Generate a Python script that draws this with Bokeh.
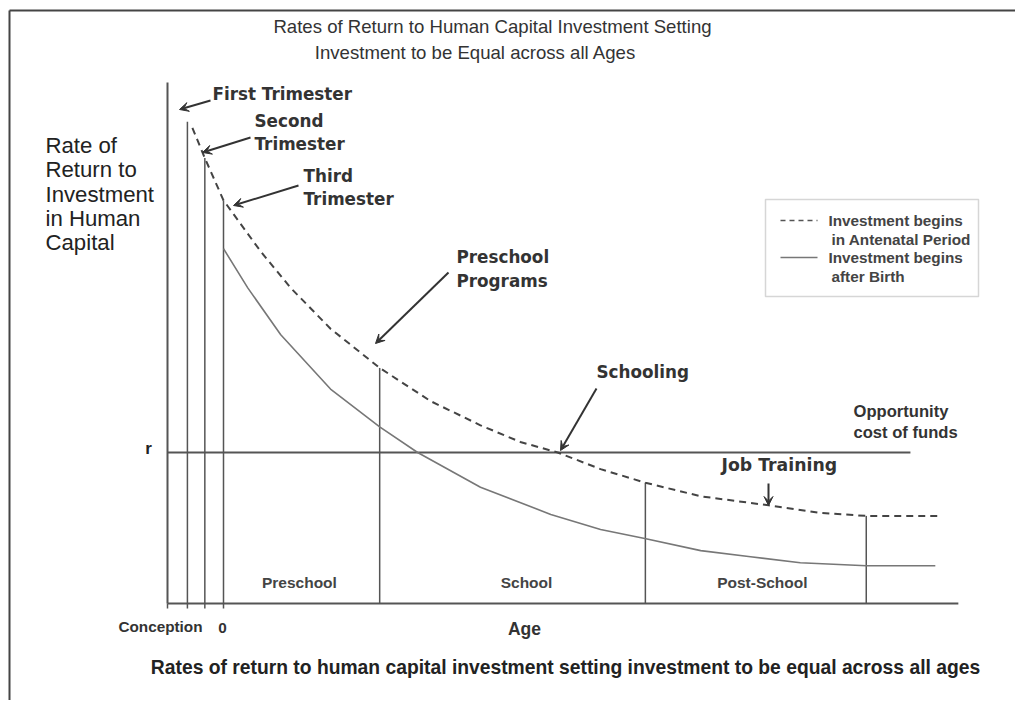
from bokeh.plotting import figure
from bokeh.models import Range1d, Label, Arrow, VeeHead, BoxAnnotation
from bokeh.embed import file_html
from bokeh.resources import INLINE

# ---------------- data (months since conception, rate of return; r = 1) -------------
dashed_months = [4.0, 6.0, 9.0, 15.0, 19.8, 26.2, 34.1, 42.3, 50.3, 56.7, 62.7, 69.6,
                 76.8, 85.7, 96.6, 105.0, 112.3, 123.8]
dashed_rate = [3.15, 2.95, 2.67, 2.33, 2.09, 1.82, 1.56, 1.34, 1.18, 1.07, 1.00, 0.89,
               0.80, 0.71, 0.65, 0.60, 0.58, 0.58]

solid_months = [9.0, 12.9, 18.2, 26.2, 34.1, 40.2, 50.3, 61.6, 69.6, 76.7, 85.7, 93.7,
                101.7, 112.3, 123.4]
solid_rate = [2.35, 2.09, 1.78, 1.42, 1.17, 1.00, 0.77, 0.59, 0.49, 0.43, 0.35, 0.31,
              0.27, 0.25, 0.25]

stage_months = [3.2, 6.0, 9.0, 34.1, 76.8, 112.3]
stage_tops = [3.19, 2.95, 2.67, 1.56, 0.80, 0.58]

r_rate = 1.0
r_end = 119.4
x_axis_end = 127.1
y_axis_top = 3.45
tick_months = [0.0, 3.2, 6.0, 9.0]

segment_names = ["Preschool", "School", "Post-School"]
segment_centers = [21.2, 57.7, 95.6]

# ---------------- layout helpers (page pixels -> data units) ----------------
PX0, PXU = 167.0, 56.0 / 9.0
PY0, PYU = 603.0, 151.0


def X(px):
    return (px - PX0) / PXU


def Y(py):
    return (PY0 - py) / PYU


W, H = 1015, 700
p = figure(width=W, height=H, x_range=Range1d(X(0), X(W)), y_range=Range1d(Y(H), Y(0)),
           output_backend="svg", toolbar_location=None, min_border=0,
           x_axis_type=None, y_axis_type=None)
p.grid.visible = False
p.outline_line_color = None
p.background_fill_color = "white"

LC = "#555555"

# page border (left and top)
p.segment(x0=[X(9), X(9)], y0=[Y(10), Y(10)], x1=[X(9), X(W)], y1=[Y(H), Y(10)],
          line_color="#444444", line_width=2)

# axes
p.segment(x0=[0, 0], y0=[0, 0], x1=[x_axis_end, 0], y1=[0, y_axis_top], line_color=LC, line_width=2)
p.segment(x0=tick_months, y0=[0] * len(tick_months), x1=tick_months,
          y1=[Y(608)] * len(tick_months), line_color=LC, line_width=1.5)

# r line
p.segment(x0=[0], y0=[r_rate], x1=[r_end], y1=[r_rate], line_color=LC, line_width=2)

# stage boundaries
p.segment(x0=stage_months, y0=[0] * len(stage_months), x1=stage_months, y1=stage_tops,
          line_color=LC, line_width=1.5)

# curves
p.line(dashed_months, dashed_rate, line_color="#444444", line_width=2, line_dash="7 5")
p.line(solid_months, solid_rate, line_color="#777777", line_width=1.6)

BOLD_L = "DejaVu Sans"
ARIAL = "Liberation Sans"


def lab(px, py, text, font=BOLD_L, size="16.8px", style="bold", align="left", color="#333333"):
    p.add_layout(Label(x=X(px), y=Y(py), text=text, text_font=font, text_font_size=size,
                       text_font_style=style, text_align=align, text_baseline="middle",
                       text_color=color))


def arrow(x0, y0, x1, y1):
    p.add_layout(Arrow(x_start=X(x0), y_start=Y(y0), x_end=X(x1), y_end=Y(y1),
                       line_color="#333333", line_width=2,
                       end=VeeHead(size=9, fill_color="#333333", line_color="#333333")))


# titles
lab(492, 26, "Rates of Return to Human Capital Investment Setting", ARIAL, "18.6px", "normal", "center")
lab(475, 52, "Investment to be Equal across all Ages", ARIAL, "18.6px", "normal", "center")

# y label
for i, t in enumerate(["Rate of", "Return to", "Investment", "in Human", "Capital"]):
    lab(45, 145 + i * 24.3, t, ARIAL, "22.2px", "normal", "left", "#222222")

# annotations
lab(212, 93, "First Trimester")
arrow(210, 100, 179, 109)
lab(254, 120, "Second")
lab(254, 143, "Trimester")
arrow(250, 137, 202, 152)
lab(303, 175, "Third")
lab(303, 198, "Trimester")
arrow(298, 185, 233, 205)
lab(456, 256, "Preschool")
lab(456, 280, "Programs")
arrow(448, 272, 375, 343)
lab(596, 371, "Schooling")
arrow(596, 388, 560, 450)
lab(721, 464, "Job Training", size="17.3px")
arrow(768, 483, 768, 505)

lab(853, 411, "Opportunity", ARIAL, "16.6px", "bold", "left", "#333333")
lab(853, 432, "cost of funds", ARIAL, "16.6px", "bold", "left", "#333333")

lab(148, 448, "r", ARIAL, "17px", "bold", "center", "#222222")

for name, c in zip(segment_names, segment_centers):
    p.add_layout(Label(x=c, y=Y(582), text=name, text_font=ARIAL, text_font_size="15.5px",
                       text_font_style="bold", text_align="center", text_baseline="middle",
                       text_color="#444444"))

lab(160, 626, "Conception", ARIAL, "15.3px", "bold", "center", "#333333")
lab(222, 627, "0", ARIAL, "15.3px", "bold", "center", "#333333")
lab(524, 628, "Age", ARIAL, "17.5px", "bold", "center", "#333333")
lab(565, 667, "Rates of return to human capital investment setting investment to be equal across all ages",
    ARIAL, "19.3px", "bold", "center", "#222222")

# legend
p.add_layout(BoxAnnotation(left=X(765), right=X(978), top=Y(199), bottom=Y(296),
                           fill_color=None, fill_alpha=0, line_color="#777777", line_width=1.5))
p.segment(x0=[X(780)], y0=[Y(220)], x1=[X(817)], y1=[Y(220)], line_color="#555555",
          line_width=1.5, line_dash="5 4")
p.segment(x0=[X(780)], y0=[Y(257)], x1=[X(817)], y1=[Y(257)], line_color="#777777", line_width=1.6)
lab(828, 220, "Investment begins", ARIAL, "15.3px", "bold", "left", "#444444")
lab(831, 239, "in Antenatal Period", ARIAL, "15.3px", "bold", "left", "#444444")
lab(828, 257, "Investment begins", ARIAL, "15.3px", "bold", "left", "#444444")
lab(831, 276, "after Birth", ARIAL, "15.3px", "bold", "left", "#444444")

open("out.html", "w").write(file_html(p, INLINE))
